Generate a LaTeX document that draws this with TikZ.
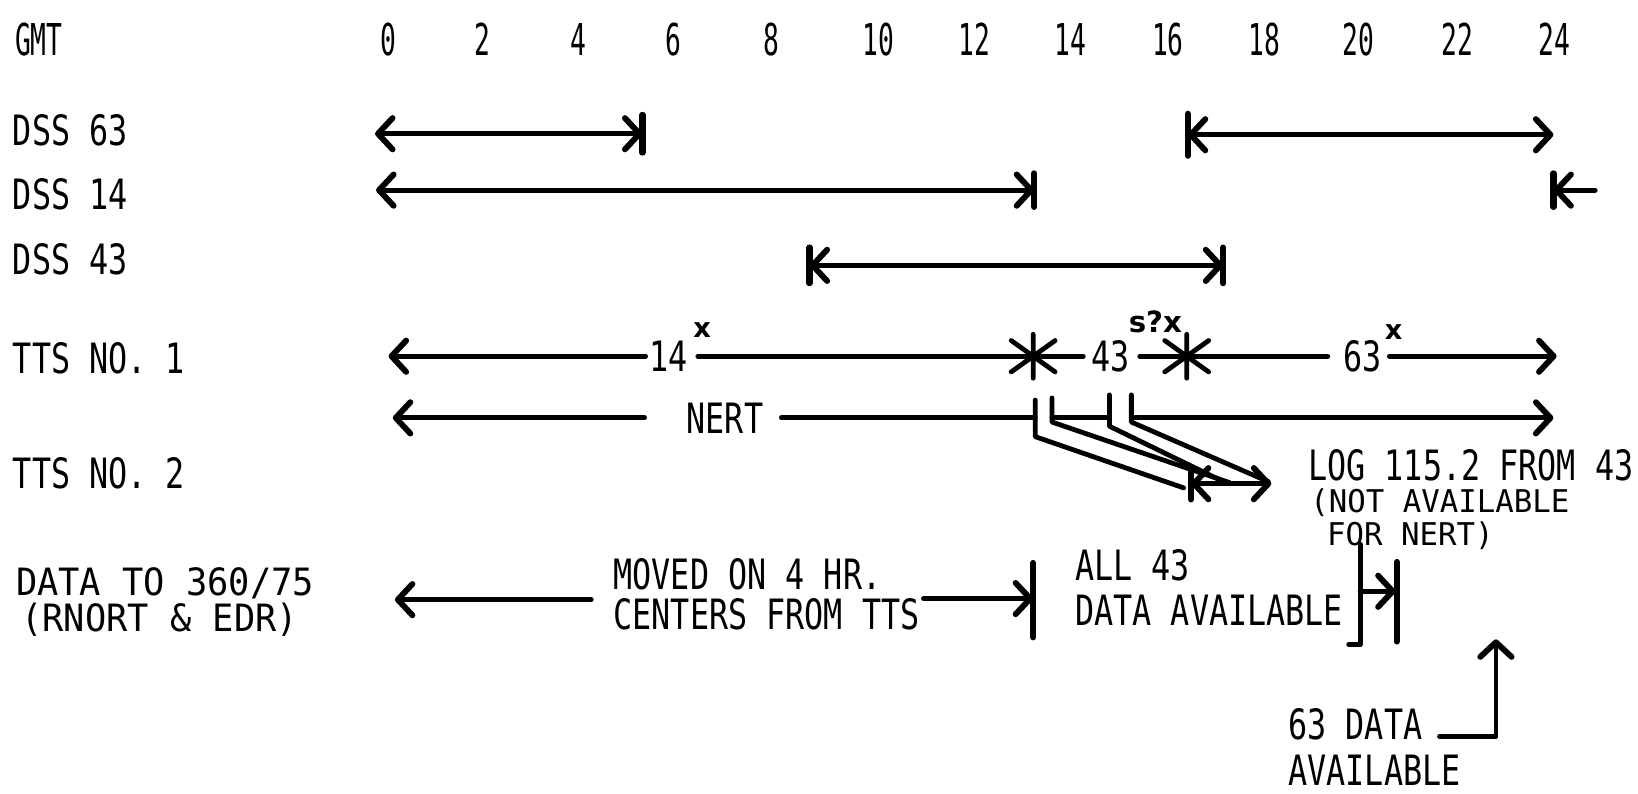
\documentclass[tikz,border=0pt]{standalone}
\usepackage{fontspec}
\usetikzlibrary{arrows.meta,calc}
\newfontfamily\lett[FakeStretch=0.76]{DejaVu Sans Mono}
\newfontfamily\lettw[FakeStretch=0.94]{DejaVu Sans Mono}
\newfontfamily\letttop[FakeStretch=0.6]{DejaVu Sans Mono}
\newfontfamily\lettsmall[FakeStretch=0.98]{DejaVu Sans Mono}
\newfontfamily\hand{DejaVu Sans}
\begin{document}
\begin{tikzpicture}[x=0.5pt,y=-0.5pt,
  >={Straight Barb[length=7pt,width=15pt,round,line width=2.8pt]},
  ln/.style={line width=2.3pt, line cap=round, line join=round},
  barline/.style={line width=3pt, line cap=round},
  lab/.style={inner sep=0pt, anchor=west, text height=14.6pt, text depth=0pt,
              font=\lett\fontsize{20}{24}\selectfont},
  labw/.style={lab, text height=13.1pt, font=\lettw\fontsize{18}{22}\selectfont},
  txt/.style={inner sep=0pt, text height=14.6pt, text depth=0pt,
              font=\lett\fontsize{20}{24}\selectfont},
  toplab/.style={inner sep=0pt, text height=15.3pt, text depth=0pt,
              font=\letttop\fontsize{21}{25}\selectfont},
  small/.style={inner sep=0pt, anchor=west, text height=11pt, text depth=0pt,
              font=\lettsmall\fontsize{15}{18}\selectfont},
  xmark/.style={inner sep=0pt, font=\hand\bfseries\fontsize{13}{13}\selectfont},
  asterisk/.pic={\draw[ln] (0,-21) -- (0,21) (-21,-15) -- (21,15) (-21,15) -- (21,-15);}
]
\useasboundingbox (0,0) rectangle (1568,760);

% ---------- header row ----------
\node[toplab, anchor=west] (gmt) at (14,38) {GMT};
\foreach \h/\xx in {0/372,2/462,4/554,6/645,8/738,10/841,12/933,14/1025,16/1118,18/1210,20/1300,22/1395,24/1488}
  \node[toplab] (h\h) at (\xx,38) {\h};

% ---------- left labels ----------
\node[lab] (l63) at (12,125) {DSS 63};
\node[lab] (l14) at (12,186) {DSS 14};
\node[lab] (l43) at (12,248) {DSS 43};
\node[lab] (ltts1) at (12,343) {TTS NO. 1};
\node[lab] (ltts2) at (12,453) {TTS NO. 2};
\node[labw] (ldata) at (15,557) {DATA TO 360/75};
\node[labw] (lrn) at (20,591) {(RNORT \& EDR)};

% ---------- DSS 63 ----------
\coordinate (d63a) at (359,128);
\coordinate (d63b) at (615,128);
\coordinate (d63c) at (1137,129);
\coordinate (d63d) at (1487,129);
\draw[ln,<->] (d63a) -- (d63b);
\draw[barline] (d63b) ++(0,-18) -- ++(0,36);
\draw[ln,<->] (d63c) -- (d63d);
\draw[barline] (d63c) ++(0,-20) -- ++(0,40);

% ---------- DSS 14 ----------
\coordinate (d14a) at (360,182);
\coordinate (d14b) at (990,182);
\coordinate (d14c) at (1487,182);
\coordinate (d14d) at (1527,182);
\draw[ln,<->] (d14a) -- (d14b);
\draw[barline] (d14b) ++(0,-16) -- ++(0,32);
\draw[ln,<-] (d14c) -- (d14d);
\draw[barline] (d14c) ++(0,-16) -- ++(0,32);

% ---------- DSS 43 ----------
\coordinate (d43a) at (775,254);
\coordinate (d43b) at (1171,254);
\draw[ln,<->] (d43a) -- (d43b);
\draw[barline] (d43a) ++(0,-17) -- ++(0,34);
\draw[barline] (d43b) ++(0,-17) -- ++(0,34);

% ---------- TTS NO. 1 ----------
\coordinate (a1L) at (372,341);
\coordinate (a1a) at (618,341);
\node[txt] (t14) at (640,341) {14};
\node[xmark] (x14) at (672,316) {x};
\coordinate (a1b) at (668,341);
\coordinate (s1) at (989,341);
\coordinate (a1c) at (1037,341);
\node[txt] (t43) at (1063,341) {43};
\coordinate (a1d) at (1091,341);
\coordinate (s2) at (1136,341);
\node[xmark, font=\hand\bfseries\fontsize{14}{14}\selectfont] (six) at (1106,308) {s?x};
\coordinate (a1e) at (1271,341);
\node[txt] (t63) at (1304,341) {63};
\node[xmark] (x63) at (1334,318) {x};
\coordinate (a1f) at (1330,341);
\coordinate (a1R) at (1490,341);
\draw[ln,->] (a1a) -- (a1L);
\draw[ln] (a1b) -- (s1) -- (a1c);
\draw[ln] (a1d) -- (s2) -- (a1e);
\draw[ln,->] (a1f) -- (a1R);
\pic at (s1) {asterisk};
\pic at (s2) {asterisk};

% ---------- NERT ----------
\coordinate (nL) at (376,400);
\coordinate (na) at (617,400);
\node[txt] (nert) at (694,400) {NERT};
\coordinate (nb) at (748,400);
\coordinate (v1) at (991,400);
\coordinate (v2) at (1007,400);
\coordinate (v3) at (1062,400);
\coordinate (v4) at (1083,400);
\coordinate (nR) at (1487,400);
\draw[ln,->] (na) -- (nL);
\draw[ln] (nb) -- (v1);
\draw[ln] (v2) -- (v3);
\draw[ln,->] (v4) -- (nR);

% ---------- TTS NO. 2 ----------
\coordinate (t2a) at (1140,463);
\coordinate (t2b) at (1217,463);
\draw[ln,<->] (t2a) -- (t2b);
\draw[barline] (t2a) ++(0,-15) -- ++(0,30);
% channels from NERT line down to the TTS NO. 2 arrow
\draw[ln] (991,383) -- (991,418) -- (1133,467);
\draw[ln] (1007,381) -- (1007,404) -- (1177,462);
\draw[ln] (1062,378) -- (1062,408) -- (1171,461);
\draw[ln] (1083,378) -- (1083,404) -- (1214,461);

\node[lab] (log) at (1252,445) {LOG 115.2 FROM 43};
\node[small] (na1) at (1254,480) {(NOT AVAILABLE};
\node[small] (na2) at (1270,511) {FOR NERT)};

% ---------- DATA row ----------
\node[lab] (mv1) at (587,550) {MOVED ON 4 HR.};
\node[lab] (mv2) at (587,588) {CENTERS FROM TTS};
\coordinate (dL) at (378,574);
\coordinate (dLs) at (566,574);
\coordinate (dRs) at (884,573);
\coordinate (dR) at (989,573);
\draw[ln,->] (dLs) -- (dL);
\draw[ln,->] (dRs) -- (dR);
\draw[barline] (989,539) -- (989,610);

\node[lab] (all1) at (1029,541) {ALL 43};
\node[lab] (all2) at (1029,584) {DATA AVAILABLE};
\draw[ln] (1291,617) -- (1302,617) -- (1302,521);
\coordinate (bk) at (1302,566);
\coordinate (b2) at (1336,566);
\draw[ln,->] (bk) -- (b2);
\draw[barline] (1337,538) -- (1337,614);

% ---------- 63 DATA AVAILABLE ----------
\node[lab] (d63t1) at (1233,693) {63 DATA};
\node[lab] (d63t2) at (1233,737) {AVAILABLE};
\coordinate (up1) at (1378,705);
\coordinate (up2) at (1432,705);
\coordinate (up3) at (1432,612);
\draw[ln,->] (up1) -- (up2) -- (up3);
\end{tikzpicture}
\end{document}
